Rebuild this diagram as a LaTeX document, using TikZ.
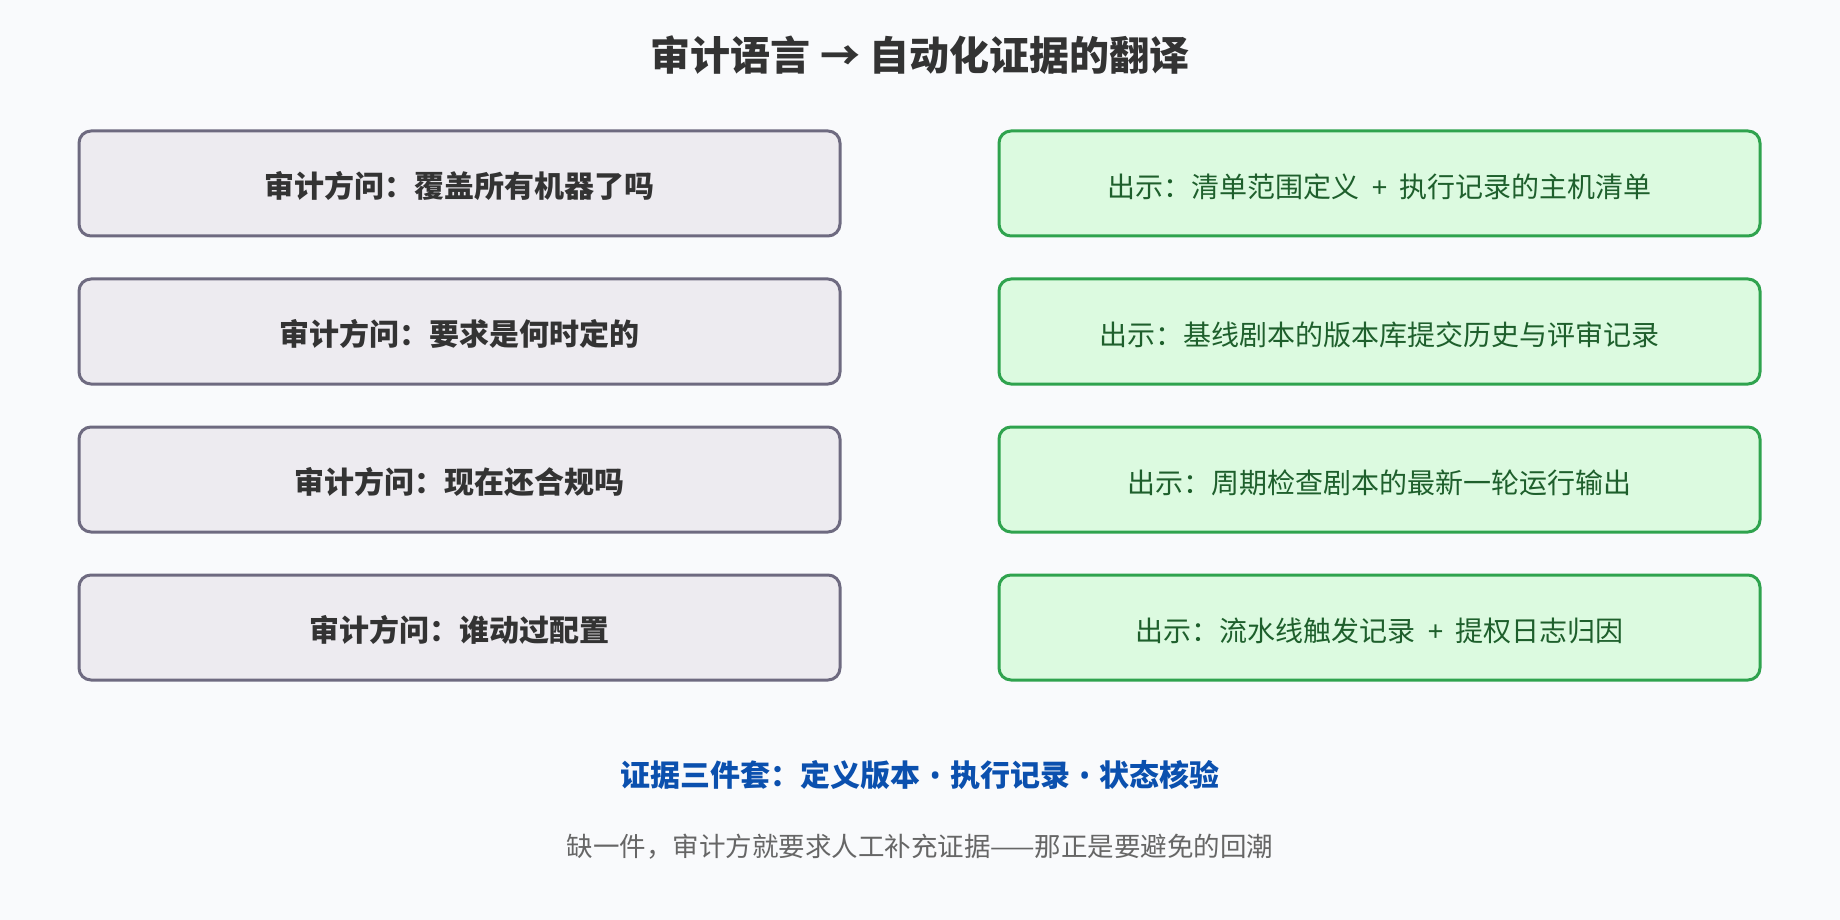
\documentclass[tikz,border=0pt]{standalone}
\usepackage{fontspec}
\newfontfamily\cjk{Noto Sans CJK SC}
\newfontfamily\lat{Noto Sans}
\newcommand\plussep{{\lat\hspace{0.44em}+\hspace{0.44em}}}
\newcommand\bulsep{{\lat\hspace{0.3em}•\hspace{0.3em}}}
\definecolor{bgc}{HTML}{F9FAFC}
\definecolor{qfill}{HTML}{EDEBF0}
\definecolor{qdraw}{HTML}{6E6A80}
\definecolor{qtext}{HTML}{333333}
\definecolor{afill}{HTML}{DCFAE0}
\definecolor{adraw}{HTML}{2FA34E}
\definecolor{atext}{HTML}{1E5F2C}
\definecolor{bluet}{HTML}{0B50AE}
\definecolor{grayt}{HTML}{666666}
\tikzset{
  x=1pt, y=-1pt,
  qbox/.style={draw=qdraw, fill=qfill, line width=3pt, rounded corners=12pt,
    minimum width=761pt, minimum height=105pt, inner sep=0pt,
    text height=28.8pt, text depth=0pt,
    text=qtext, font=\cjk\bfseries\fontsize{30}{36}\selectfont},
  abox/.style={draw=adraw, fill=afill, line width=3pt, rounded corners=12pt,
    minimum width=761pt, minimum height=105pt, inner sep=0pt,
    text height=27.3pt, text depth=0pt,
    text=atext, font=\cjk\fontsize{28}{34}\selectfont},
}
\begin{document}
\begin{tikzpicture}
\fill[bgc] (0,0) rectangle (1840,920);
\useasboundingbox (0,0) rectangle (1840,920);
\node[text=qtext, font=\cjk\bfseries\fontsize{40}{48}\selectfont] (title) at (920,55) {审计语言 → 自动化证据的翻译};
\node[qbox] (q1) at (459.5,183.5) {审计方问：覆盖所有机器了吗};
\node[qbox] (q2) at (459.5,331.5) {审计方问：要求是何时定的};
\node[qbox] (q3) at (459.5,479.5) {审计方问：现在还合规吗};
\node[qbox] (q4) at (459.5,627.5) {审计方问：谁动过配置};
\node[abox] (a1) at (1379.5,183.5) {出示：清单范围定义\plussep 执行记录的主机清单};
\node[abox] (a2) at (1379.5,331.5) {出示：基线剧本的版本库提交历史与评审记录};
\node[abox] (a3) at (1379.5,479.5) {出示：周期检查剧本的最新一轮运行输出};
\node[abox] (a4) at (1379.5,627.5) {出示：流水线触发记录\plussep 提权日志归因};
\node[text=bluet, font=\cjk\bfseries\fontsize{30}{36}\selectfont] (trio) at (920,775) {证据三件套：定义版本\bulsep 执行记录\bulsep 状态核验};
\node[text=grayt, font=\cjk\fontsize{26.5}{32}\selectfont] (note) at (920,847) {缺一件，审计方就要求人工补充证据——那正是要避免的回潮};
\end{tikzpicture}
\end{document}
